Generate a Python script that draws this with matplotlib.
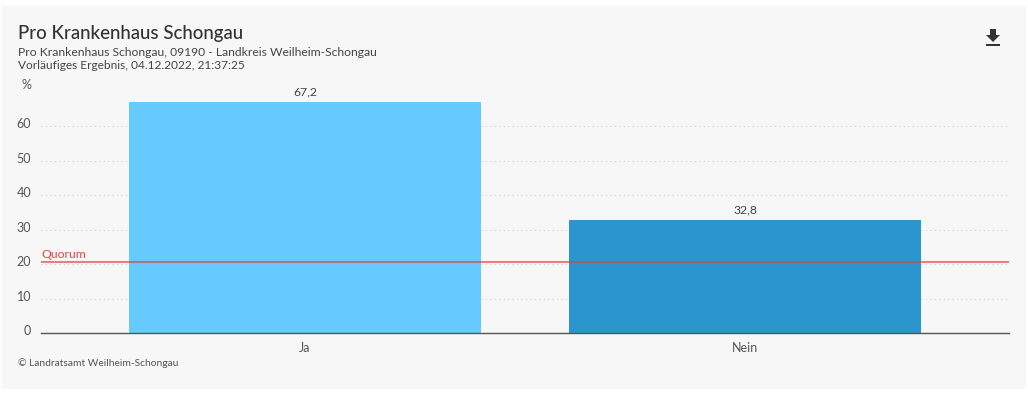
#!/usr/bin/env python3
import matplotlib
matplotlib.use("Agg")
import matplotlib.pyplot as plt
from matplotlib.patches import Polygon, Rectangle
from matplotlib.transforms import ScaledTranslation

W, H = 1028, 396

categories = ["Ja", "Nein"]
values = [67.2, 32.8]
value_labels = ["67,2", "32,8"]
bar_colors = ["#66CAFF", "#2B96CE"]
y_ticks = [0, 10, 20, 30, 40, 50, 60]
quorum = 20.7

plt.rcParams['font.family'] = ['Lato', 'DejaVu Sans']


def px(x, y):
    # image pixels (origin top left) to figure fractions
    return x / W, 1 - y / H


fig = plt.figure(figsize=(W / 100, H / 100), dpi=100, facecolor="white")

# grey card behind everything
fig.patches.append(Rectangle(px(2, 389), 1024 / W, 383 / H, transform=fig.transFigure,
                             facecolor="#F7F7F7", edgecolor="none", zorder=-5))

left, bottom = px(41, 333.4)
ax = fig.add_axes([left, bottom, 968 / W, 252 / H])
ax.patch.set_alpha(0)
ax.set_xlim(-0.6, 1.6)
ax.set_ylim(0, 252 / 3.45)

ax.bar(range(len(categories)), values, width=0.8, color=bar_colors, zorder=2)
for i, v in enumerate(values):
    ax.annotate(value_labels[i], (i, v), xytext=(0, 3.2), textcoords="offset points",
                ha="center", va="bottom", fontsize=8.8, color="#444444")

ax.axhline(quorum, color="#E0403F", alpha=0.65, lw=1.5, zorder=3)
ax.annotate("Quorum", (0, quorum), xycoords=("axes fraction", "data"), xytext=(0, 1.5),
            textcoords="offset points", ha="left", va="bottom", fontsize=8.8, color="#DD4444")

ax.set_yticks(y_ticks)
ax.set_xticks(range(len(categories)))
ax.set_xticklabels(categories)
ax.tick_params(axis="both", length=0, labelsize=9, labelcolor="#555555")
ax.tick_params(axis="x", pad=6.5)
ax.tick_params(axis="y", pad=7)
# y labels sit a little above their gridlines
nudge = ScaledTranslation(0, 3 / 100, fig.dpi_scale_trans)
for t in ax.get_yticklabels():
    t.set_transform(t.get_transform() + nudge)

ax.yaxis.grid(True, linestyle=(0, (1, 3)), color="#D2D2D2", lw=0.8, zorder=1)
ax.set_axisbelow(True)
for name in ["top", "right", "left"]:
    ax.spines[name].set_visible(False)
ax.spines["bottom"].set_color("#555555")
ax.spines["bottom"].set_linewidth(1)
ax.spines["bottom"].set_zorder(4)

# header and footer text
fig.text(*px(18, 34), "Pro Krankenhaus Schongau", fontsize=13.4, color="#333333", va="center",
         fontweight="medium")
fig.text(*px(18, 52), "Pro Krankenhaus Schongau, 09190 - Landkreis Weilheim-Schongau",
         fontsize=8.75, color="#444444", va="center")
fig.text(*px(18, 65.5), "Vorläufiges Ergebnis, 04.12.2022, 21:37:25",
         fontsize=8.6, color="#444444", va="center")
fig.text(*px(21, 85), "%", fontsize=9, color="#555555", va="center")
fig.text(*px(18, 363.5), "© Landratsamt Weilheim-Schongau", fontsize=7.4, color="#555555", va="center")

# download icon
arrow = [(990, 29), (996, 29), (996, 35), (1000, 35), (993, 42), (986, 35), (990, 35)]
fig.patches.append(Polygon([px(x, y) for x, y in arrow], closed=True, transform=fig.transFigure,
                           facecolor="#333333", edgecolor="none"))
fig.patches.append(Rectangle(px(986, 46), 14 / W, 2 / H, transform=fig.transFigure,
                             facecolor="#333333", edgecolor="none"))

fig.savefig("out.png", dpi=100, facecolor="white")
